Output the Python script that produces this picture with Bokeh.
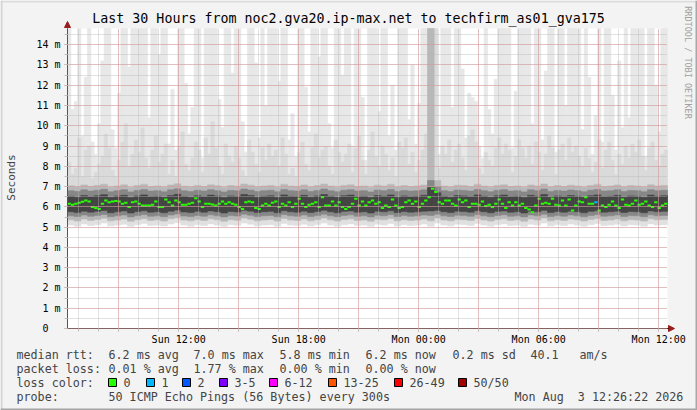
import math
from datetime import datetime, timedelta

import numpy as np
from bokeh.embed import file_html
from bokeh.models import (Arrow, BoxAnnotation, ColumnDataSource, FixedTicker, Label,
                          NormalHead, Range1d)
from bokeh.plotting import figure
from bokeh.resources import INLINE

MONO = "DejaVu Sans Mono"

TITLE = "Last 30 Hours from noc2.gva20.ip-max.net to techfirm_as01_gva175"
END_TIME = datetime(2026, 8, 3, 12, 26, 22)
HOURS = 30
FINE_STEP = 600      # seconds per fine column
COARSE_STEP = 1200   # seconds per coarse column

# median rtt per 10 minutes (ms)
median_ms = [
    6.15, 6.10, 6.15, 6.20, 6.25, 6.31, 6.27, 5.99, 5.94, 5.90,
    6.15, 6.31, 6.23, 6.27, 6.29, 6.27, 6.15, 6.20, 5.99, 6.23,
    6.27, 6.15, 6.07, 6.07, 6.07, 6.10, 6.27, 5.99, 5.99, 6.36,
    6.23, 6.07, 6.31, 6.23, 6.10, 6.10, 6.15, 6.20, 6.43, 6.27,
    5.99, 6.15, 6.15, 6.12, 6.07, 6.15, 6.27, 6.15, 6.23, 6.15,
    6.10, 5.99, 5.90, 6.23, 6.27, 6.23, 5.94, 5.90, 6.07, 6.15,
    6.07, 6.20, 6.27, 5.99, 6.15, 6.07, 6.23, 5.99, 6.15, 6.40,
    6.15, 5.99, 6.10, 6.15, 6.23, 5.99, 6.48, 6.07, 6.07, 6.27,
    6.07, 6.23, 5.99, 5.90, 5.99, 6.15, 6.40, 6.07, 6.27, 6.07,
    6.23, 6.31, 6.15, 6.23, 5.94, 6.07, 5.99, 6.36, 6.07, 5.94,
    5.99, 6.23, 6.31, 6.15, 6.27, 5.99, 6.15, 6.31, 6.48, 6.89,
    6.73, 6.23, 6.15, 6.31, 6.31, 6.15, 6.07, 6.36, 6.23, 6.31,
    5.99, 6.15, 6.15, 6.10, 6.27, 6.04, 6.10, 5.99, 6.15, 6.36,
    6.15, 5.94, 6.23, 6.07, 6.23, 6.07, 6.15, 5.94, 5.87, 5.74,
    6.07, 6.40, 6.15, 6.20, 6.15, 6.40, 6.10, 6.07, 6.31, 6.07,
    6.36, 5.82, 6.07, 6.27, 6.23, 6.48, 6.15, 6.15, 6.23, 5.82,
    6.07, 5.99, 6.10, 6.27, 6.07, 5.94, 6.36, 6.10, 6.07, 6.15,
    6.31, 6.10, 6.15, 6.27, 6.07, 5.99, 6.23, 5.94, 6.07, 6.15,
]

# slowest ping per 10 minutes (ms), 16 = above the top of the graph
ping_max = [
    16, 10.8, 11.2, 16, 9.5, 12.4, 16, 9.2, 8.6, 10.1,
    13.2, 16, 16, 9.8, 8.9, 11.6, 16, 16, 12.9, 16,
    16, 16, 16, 16, 10.4, 16, 16, 13.5, 16, 16,
    9.1, 11.8, 8.8, 16, 16, 12.1, 9.6, 10.9, 16, 16,
    8.4, 16, 16, 16, 16, 11.3, 9.9, 16, 16, 12.6,
    16, 16, 10.2, 8.7, 16, 16, 13.1, 9.4, 16, 11.0,
    16, 16, 16, 12.2, 16, 16, 9.3, 10.6, 8.5, 16,
    16, 11.9, 9.7, 16, 16, 13.4, 16, 16, 10.1, 8.9,
    16, 16, 12.5, 16, 16, 9.0, 16, 16, 11.4, 8.3,
    16, 16, 16, 10.7, 16, 16, 9.5, 12.0, 8.8, 16,
    16, 16, 10.3, 13.0, 9.1, 11.1, 16, 16, 16, 16,
    16, 8.6, 16, 16, 16, 10.9, 16, 16, 12.8, 9.4,
    11.6, 11.4, 11.2, 9.0, 8.4, 16, 10.8, 9.6, 12.3, 16,
    16, 16, 16, 8.9, 11.7, 16, 16, 16, 16, 10.1,
    16, 16, 9.3, 12.7, 16, 16, 8.7, 16, 16, 11.0,
    16, 16, 16, 16, 9.8, 16, 12.4, 8.6, 10.5, 16,
    9.2, 16, 16, 11.5, 8.8, 13.2, 9.9, 16, 10.4, 16,
    16, 16, 16, 8.5, 16, 16, 12.0, 9.7, 16, 16,
]

# upper part of the denser smoke per 10 minutes (ms)
ping_hi = [
    8.2, 7.6, 7.9, 9.4, 7.5, 8.8, 9.0, 7.4, 7.7, 8.1,
    8.5, 9.6, 8.9, 7.8, 7.5, 8.3, 9.2, 10.1, 8.0, 8.6,
    9.3, 8.7, 9.9, 8.4, 7.9, 8.8, 9.5, 8.2, 8.6, 9.1,
    7.6, 8.3, 7.5, 9.0, 9.7, 8.1, 7.8, 8.4, 9.2, 8.8,
    7.7, 9.4, 8.6, 10.2, 8.9, 8.0, 7.6, 9.1, 8.5, 8.2,
    9.0, 8.4, 7.8, 7.5, 9.3, 8.7, 8.1, 7.7, 8.9, 8.3,
    9.1, 8.5, 8.8, 8.0, 9.4, 8.6, 7.6, 7.9, 7.5, 8.7,
    9.2, 8.1, 7.8, 8.9, 9.6, 8.4, 8.8, 9.0, 8.0, 7.6,
    9.3, 8.7, 8.2, 8.6, 9.1, 7.7, 8.9, 9.5, 8.3, 7.6,
    8.8, 9.7, 8.5, 8.0, 9.0, 8.6, 7.8, 8.4, 7.5, 9.2,
    8.9, 9.4, 8.1, 8.7, 7.7, 8.3, 8.8, 9.6, 16, 16,
    16, 7.9, 9.0, 8.6, 9.3, 8.2, 8.8, 9.1, 8.4, 7.8,
    9.5, 9.8, 9.2, 7.9, 7.6, 8.7, 8.3, 8.0, 8.9, 9.4,
    8.6, 9.1, 8.8, 7.7, 8.5, 9.3, 8.9, 8.4, 9.0, 8.1,
    9.2, 8.7, 7.8, 8.6, 9.5, 8.9, 7.6, 8.8, 9.1, 8.3,
    9.4, 8.7, 9.0, 8.5, 8.0, 8.9, 8.4, 7.7, 8.2, 9.3,
    7.9, 8.8, 9.2, 8.3, 7.6, 8.6, 8.1, 9.0, 8.4, 9.1,
    8.7, 9.3, 8.5, 7.8, 8.9, 9.2, 8.3, 8.0, 8.6, 8.8,
]

# smoke core per 20 minutes (ms)
ping_min = [
    5.10, 5.05, 5.15, 5.08, 5.12, 5.20, 5.06, 5.10, 5.14, 5.04,
    5.12, 5.18, 5.08, 5.10, 5.06, 5.15, 5.22, 5.10, 5.05, 5.12,
    5.08, 5.16, 5.10, 5.04, 5.12, 5.09, 5.20, 5.14, 5.06, 5.10,
    5.12, 5.05, 5.18, 5.10, 5.08, 5.14, 5.06, 5.12, 5.20, 5.10,
    5.05, 5.12, 5.16, 5.08, 5.10, 5.04, 5.14, 5.10, 5.18, 5.06,
    5.12, 5.08, 5.10, 5.15, 5.05, 5.20, 5.10, 5.06, 5.14, 5.12,
    5.08, 5.18, 5.10, 5.05, 5.12, 5.16, 5.08, 5.10, 5.04, 5.14,
    5.10, 5.20, 5.06, 5.12, 5.08, 5.15, 5.10, 5.05, 5.12, 5.18,
    5.08, 5.10, 5.14, 5.06, 5.12, 5.10, 5.05, 5.16, 5.10, 5.12,
]
ping_lo = [
    5.36, 5.30, 5.40, 5.33, 5.38, 5.44, 5.31, 5.35, 5.40, 5.29,
    5.37, 5.42, 5.33, 5.36, 5.30, 5.41, 5.46, 5.35, 5.31, 5.38,
    5.33, 5.41, 5.36, 5.29, 5.37, 5.34, 5.45, 5.39, 5.31, 5.35,
    5.38, 5.30, 5.43, 5.35, 5.33, 5.40, 5.31, 5.37, 5.45, 5.36,
    5.30, 5.38, 5.41, 5.33, 5.35, 5.29, 5.39, 5.36, 5.43, 5.31,
    5.37, 5.33, 5.35, 5.40, 5.31, 5.45, 5.35, 5.31, 5.39, 5.37,
    5.33, 5.43, 5.35, 5.30, 5.38, 5.41, 5.33, 5.36, 5.29, 5.40,
    5.35, 5.45, 5.31, 5.37, 5.33, 5.40, 5.36, 5.30, 5.38, 5.43,
    5.33, 5.35, 5.40, 5.31, 5.37, 5.35, 5.30, 5.41, 5.36, 5.38,
]
ping_mlo = [
    5.56, 5.52, 5.60, 5.54, 5.58, 5.63, 5.51, 5.56, 5.60, 5.50,
    5.57, 5.62, 5.54, 5.56, 5.51, 5.60, 5.65, 5.55, 5.52, 5.58,
    5.54, 5.61, 5.56, 5.50, 5.57, 5.55, 5.64, 5.59, 5.52, 5.56,
    5.58, 5.51, 5.62, 5.56, 5.54, 5.60, 5.52, 5.57, 5.64, 5.56,
    5.51, 5.58, 5.61, 5.54, 5.56, 5.50, 5.59, 5.56, 5.62, 5.52,
    5.57, 5.54, 5.56, 5.60, 5.58, 5.64, 5.56, 5.52, 5.59, 5.57,
    5.54, 5.62, 5.56, 5.51, 5.58, 5.61, 5.54, 5.56, 5.50, 5.60,
    5.56, 5.64, 5.52, 5.57, 5.54, 5.60, 5.56, 5.51, 5.58, 5.62,
    5.54, 5.56, 5.60, 5.52, 5.57, 5.56, 5.51, 5.61, 5.56, 5.58,
]
core_lo = [
    5.76, 5.72, 5.79, 5.74, 5.78, 5.82, 5.71, 5.76, 5.80, 5.70,
    5.77, 5.81, 5.74, 5.76, 5.71, 5.79, 5.84, 5.75, 5.72, 5.78,
    5.74, 5.80, 5.76, 5.70, 5.77, 5.75, 5.83, 5.79, 5.72, 5.76,
    5.78, 5.71, 5.81, 5.76, 5.74, 5.79, 5.72, 5.77, 5.83, 5.76,
    5.71, 5.78, 5.80, 5.74, 5.76, 5.70, 5.79, 5.76, 5.81, 5.72,
    5.77, 5.74, 5.76, 5.79, 5.80, 5.83, 5.76, 5.72, 5.79, 5.77,
    5.74, 5.81, 5.76, 5.71, 5.78, 5.80, 5.74, 5.76, 5.70, 5.79,
    5.76, 5.83, 5.72, 5.77, 5.74, 5.79, 5.76, 5.71, 5.78, 5.81,
    5.74, 5.76, 5.79, 5.72, 5.77, 5.76, 5.71, 5.80, 5.76, 5.78,
]
core_hi = [
    6.52, 6.48, 6.56, 6.50, 6.55, 6.60, 6.47, 6.53, 6.57, 6.46,
    6.54, 6.59, 6.50, 6.52, 6.47, 6.56, 6.62, 6.51, 6.48, 6.55,
    6.50, 6.58, 6.53, 6.46, 6.54, 6.51, 6.61, 6.56, 6.48, 6.52,
    6.55, 6.47, 6.59, 6.52, 6.50, 6.57, 6.48, 6.54, 6.61, 6.52,
    6.47, 6.55, 6.58, 6.50, 6.52, 6.46, 6.56, 6.52, 6.59, 6.48,
    6.54, 6.50, 6.52, 6.57, 6.95, 6.70, 6.52, 6.48, 6.56, 6.54,
    6.50, 6.59, 6.52, 6.47, 6.55, 6.58, 6.50, 6.52, 6.46, 6.57,
    6.52, 6.61, 6.48, 6.54, 6.50, 6.56, 6.52, 6.47, 6.55, 6.59,
    6.50, 6.52, 6.57, 6.48, 6.54, 6.52, 6.47, 6.58, 6.52, 6.55,
]
ping_mhi = [
    6.80, 6.76, 6.84, 6.78, 6.82, 6.87, 6.75, 6.80, 6.85, 6.74,
    6.81, 6.86, 6.78, 6.80, 6.75, 6.84, 6.89, 6.79, 6.76, 6.82,
    6.78, 6.85, 6.80, 6.74, 6.81, 6.79, 6.88, 6.83, 6.76, 6.80,
    6.82, 6.75, 6.86, 6.80, 6.78, 6.84, 6.76, 6.81, 6.88, 6.80,
    6.75, 6.82, 6.85, 6.78, 6.80, 6.74, 6.83, 6.80, 6.86, 6.76,
    6.81, 6.78, 6.80, 6.84, 7.30, 7.00, 6.80, 6.76, 6.83, 6.81,
    6.78, 6.86, 6.80, 6.75, 6.82, 6.85, 6.78, 6.80, 6.74, 6.84,
    6.80, 6.88, 6.76, 6.81, 6.78, 6.83, 6.80, 6.75, 6.82, 6.86,
    6.78, 6.80, 6.84, 6.76, 6.81, 6.80, 6.75, 6.85, 6.80, 6.82,
]
ping_up = [
    7.04, 6.98, 7.08, 7.01, 7.06, 7.12, 6.97, 7.03, 7.09, 6.96,
    7.05, 7.11, 7.00, 7.03, 6.97, 7.08, 7.14, 7.02, 6.98, 7.06,
    7.00, 7.09, 7.04, 6.96, 7.05, 7.02, 7.13, 7.07, 6.98, 7.03,
    7.06, 6.97, 7.11, 7.03, 7.00, 7.08, 6.98, 7.05, 7.13, 7.03,
    6.97, 7.06, 7.09, 7.00, 7.03, 6.96, 7.07, 7.03, 7.11, 6.98,
    7.05, 7.00, 7.03, 7.08, 16.0, 7.30, 7.03, 6.98, 7.07, 7.05,
    7.00, 7.11, 7.03, 6.97, 7.06, 7.09, 7.00, 7.03, 6.96, 7.08,
    7.03, 7.13, 6.98, 7.05, 7.00, 7.07, 7.03, 6.97, 7.06, 7.11,
    7.00, 7.03, 7.08, 6.98, 7.05, 7.03, 6.97, 7.09, 7.03, 7.06,
]

# lost pings per 10 minute column, where not 0
lost_pings = {158: 1}

loss_labels = ["0", "1", "2", "3-5", "6-12", "13-25", "26-49", "50/50"]
loss_colors = ["#26ff00", "#00b8ff", "#0059ff", "#7e00ff", "#ff00ff", "#ff5500", "#ff0000", "#a10000"]

legend_rows = [
    ["median rtt:", "6.2 ms avg", "7.0 ms max", "5.8 ms min", "6.2 ms now", "0.2 ms sd", "40.1", "am/s"],
    ["packet loss:", "0.01 % avg", "1.77 % max", "0.00 % min", "0.00 % now"],
]
probe_text = "50 ICMP Echo Pings (56 Bytes) every 300s"
stamp_text = "Mon Aug  3 12:26:22 2026"

# ---- geometry in picture pixels; the frame covers the whole canvas
W, H = 697, 410
GRAPH_L, GRAPH_T, GRAPH_W, GRAPH_H = 67, 28, 600, 300
Y_TOP = 14.8
X_SPAN = HOURS * 3600
SX = X_SPAN / GRAPH_W
SY = Y_TOP / GRAPH_H


def dx(px):
    return (px - GRAPH_L) * SX


def dy(py):
    return (GRAPH_T + GRAPH_H - py) * SY


def nb(s):
    return s.replace(" ", "\u00a0")


start = END_TIME - timedelta(hours=HOURS)


def secs(t):
    return int((t - start).total_seconds())


p = figure(width=W, height=H, x_range=Range1d(dx(0), dx(W)), y_range=Range1d(dy(H), dy(0)),
           output_backend="svg", toolbar_location=None, title=None, min_border=0)
p.background_fill_color = "#f3f3f3"
p.border_fill_color = "#f3f3f3"
p.outline_line_color = None

# picture border and white canvas
for l, r, b, t, c in [(0, W, 0, 2, "#dcdcdc"), (0, 2, 0, H, "#d4d4d4"),
                      (0, W, H - 2, H, "#a4a4a4"), (W - 2, W, 0, H, "#a8a8a8")]:
    p.add_layout(BoxAnnotation(left=dx(l), right=dx(r), top=dy(b), bottom=dy(t),
                               fill_color=c, fill_alpha=1, line_color=None, level="underlay"))
p.add_layout(BoxAnnotation(left=0, right=X_SPAN, bottom=0, top=Y_TOP, fill_color="white",
                           fill_alpha=1, line_color=None, level="underlay"))

# ---- smoke
n_fine = len(median_ms)
fine = ColumnDataSource(dict(
    left=np.arange(n_fine) * FINE_STEP,
    right=(np.arange(n_fine) + 1) * FINE_STEP,
    median=np.array(median_ms),
    hi=np.minimum(ping_hi, Y_TOP),
    top=np.minimum(ping_max, Y_TOP),
))
n_coarse = len(ping_min)
coarse = ColumnDataSource(dict(
    left=np.arange(n_coarse) * COARSE_STEP,
    right=(np.arange(n_coarse) + 1) * COARSE_STEP,
    pmin=ping_min, plo=ping_lo, pmlo=ping_mlo, clo=core_lo,
    chi=core_hi, pmhi=ping_mhi, pup=np.minimum(ping_up, Y_TOP),
))

p.quad(left="left", right="right", bottom="median", top="top", source=fine,
       fill_color="#e8e8e8", line_color="#e8e8e8", line_width=0.6)
p.quad(left="left", right="right", bottom="median", top="hi", source=fine,
       fill_color="#dadada", line_color="#dadada", line_width=0.6)
for lo, hi, col in [("pmin", "pup", "#e0e0e0"), ("plo", "pup", "#b8b8b8"),
                    ("pmlo", "pmhi", "#878787"), ("clo", "chi", "#444444")]:
    p.quad(left="left", right="right", bottom=lo, top=hi, source=coarse,
           fill_color=col, line_color=col, line_width=0.6)

# ---- median, coloured by loss
med_col = [loss_colors[lost_pings.get(i, 0)] for i in range(n_fine)]
med = ColumnDataSource(dict(
    left=np.arange(n_fine) * FINE_STEP,
    right=(np.arange(n_fine) + 1) * FINE_STEP,
    bottom=np.array(median_ms) - 0.05,
    top=np.array(median_ms) + 0.05,
    color=med_col,
))
p.quad(left="left", right="right", bottom="bottom", top="top", source=med,
       fill_color="color", line_color=None)

# ---- ticks and grid
majors = [datetime(2026, 8, 2, 9) + timedelta(hours=3 * k) for k in range(10)]
minors = [datetime(2026, 8, 2, 7) + timedelta(hours=k) for k in range(30)]
xt = FixedTicker(ticks=[secs(t) for t in majors], minor_ticks=[secs(t) for t in minors])
yt = FixedTicker(ticks=list(range(15)), minor_ticks=[0.5 * k for k in range(30)])

p.xaxis.ticker = xt
p.xaxis.major_label_overrides = {secs(t): (t.strftime("%a %H:%M") if t.hour % 6 == 0 else "")
                                 for t in majors}
p.yaxis.ticker = yt
p.yaxis.major_label_overrides = {i: (f"{i} m" if i else "0\u00a0\u00a0") for i in range(15)}

p.xaxis.fixed_location = 0
p.yaxis.fixed_location = 0
p.xaxis.bounds = (0, X_SPAN)
p.yaxis.bounds = (0, Y_TOP)
for ax in (p.xaxis[0], p.yaxis[0]):
    ax.major_label_text_font = MONO
    ax.major_label_text_font_size = "10px"
    ax.major_label_text_color = "black"
    ax.major_tick_in = 0
    ax.major_tick_out = 3
    ax.minor_tick_in = 0
    ax.minor_tick_out = 3
    ax.major_tick_line_color = "#e49090"
    ax.minor_tick_line_color = "#c0c0c0"
p.xaxis.axis_line_color = "black"
p.yaxis.axis_line_color = "#555555"
p.xaxis.major_label_standoff = 2
p.yaxis.major_label_standoff = 4

p.xgrid.ticker = xt
p.ygrid.ticker = yt
p.xgrid.bounds = (0, X_SPAN)
p.xgrid.cross_bounds = (0, Y_TOP)
p.ygrid.bounds = (0, Y_TOP)
p.ygrid.cross_bounds = (0, X_SPAN)
for g in (p.xgrid[0], p.ygrid[0]):
    g.grid_line_color = "#e48c8c"
    g.grid_line_alpha = 0.8
    g.grid_line_dash = "1 1"
    g.minor_grid_line_color = "#b8b8b8"
    g.minor_grid_line_alpha = 0.8
    g.minor_grid_line_dash = "1 1"
    g.level = "overlay"

# ---- axis arrows
p.add_layout(Arrow(end=NormalHead(size=6, fill_color="#9a1c1c", line_color="#9a1c1c"),
                   x_start=0, y_start=Y_TOP, x_end=0, y_end=dy(21),
                   line_color="#555555", line_width=1))
p.add_layout(Arrow(end=NormalHead(size=6, fill_color="#9a1c1c", line_color="#9a1c1c"),
                   x_start=X_SPAN, y_start=0, x_end=dx(674), y_end=0,
                   line_color="black", line_width=1))

# ---- texts
p.add_layout(Label(x=dx(348), y=dy(18), text=nb(TITLE), text_font=MONO, text_font_size="13.3px",
                   text_align="center", text_baseline="middle", text_color="black"))
p.add_layout(Label(x=dx(11), y=dy(177), text="Seconds", text_font=MONO, text_font_size="11px",
                   text_align="center", text_baseline="middle", angle=math.pi / 2))
p.add_layout(Label(x=dx(687), y=dy(62), text=nb("RRDTOOL / TOBI OETIKER"), text_font=MONO,
                   text_font_size="8.5px", text_align="center", text_baseline="middle",
                   angle=-math.pi / 2, text_color="#a0a0a0"))

col_x = [16, 108, 193, 279, 365, 452, 530, 579]
for row_y, row in zip([354, 368], legend_rows):
    for cx, txt in zip(col_x, row):
        p.add_layout(Label(x=dx(cx), y=dy(row_y), text=nb(txt), text_font=MONO,
                           text_font_size="11.7px", text_baseline="middle"))

p.add_layout(Label(x=dx(16), y=dy(382), text=nb("loss color:"), text_font=MONO,
                   text_font_size="11.7px", text_baseline="middle"))
box_x = [108, 146, 182, 219, 269, 328, 394, 458]
for bx, lab, col in zip(box_x, loss_labels, loss_colors):
    p.add_layout(BoxAnnotation(left=dx(bx), right=dx(bx + 8), bottom=dy(386), top=dy(378),
                               fill_color=col, fill_alpha=1, line_color="black", line_width=1,
                               line_alpha=1))
    p.add_layout(Label(x=dx(bx + 15), y=dy(382), text=lab, text_font=MONO,
                       text_font_size="11.7px", text_baseline="middle"))

p.add_layout(Label(x=dx(16), y=dy(396), text="probe:", text_font=MONO,
                   text_font_size="11.7px", text_baseline="middle"))
p.add_layout(Label(x=dx(108), y=dy(396), text=nb(probe_text), text_font=MONO,
                   text_font_size="11.7px", text_baseline="middle"))
p.add_layout(Label(x=dx(514), y=dy(396), text=nb(stamp_text), text_font=MONO,
                   text_font_size="11.7px", text_baseline="middle"))

open("out.html", "w").write(file_html(p, INLINE))
